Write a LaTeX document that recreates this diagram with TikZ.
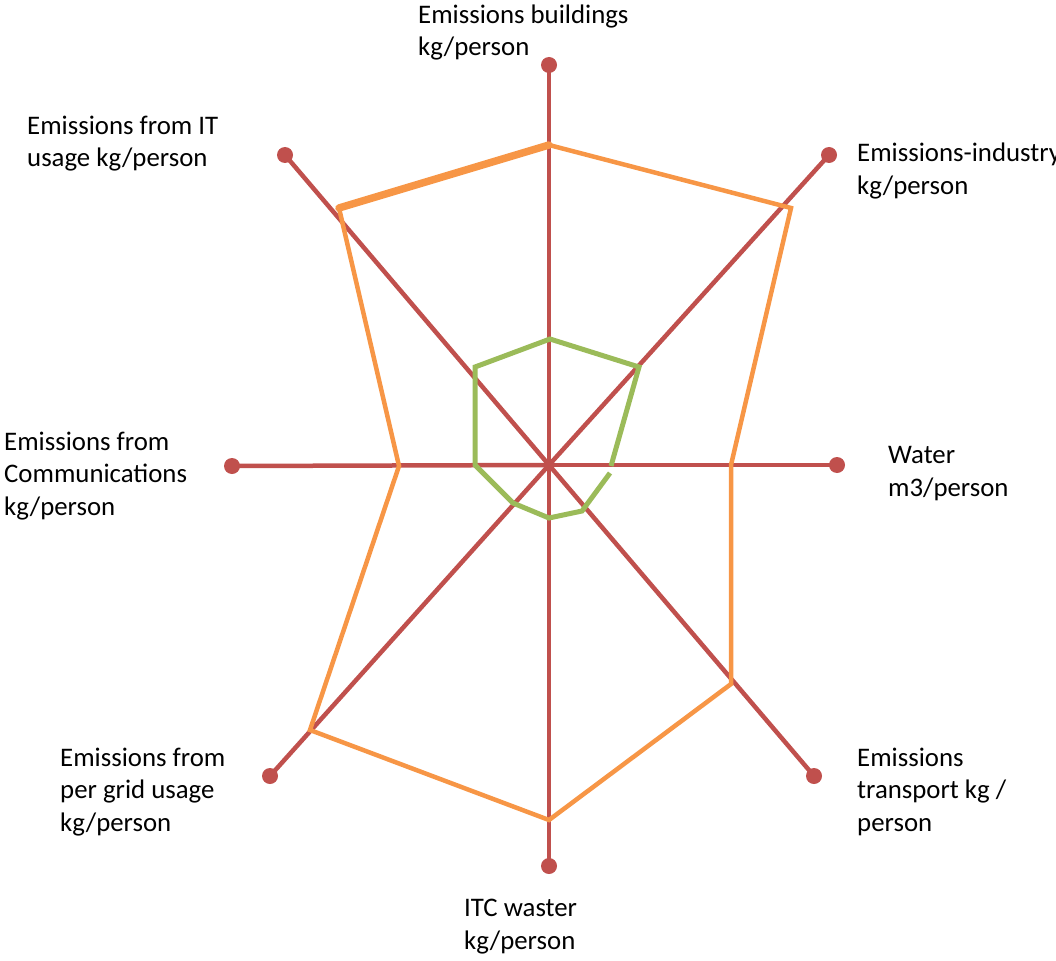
\documentclass[tikz,border=0pt]{standalone}
\usepackage{fontspec}
\setmainfont{Carlito}
\definecolor{axisred}{HTML}{C0504D}
\definecolor{seriesorange}{HTML}{F79646}
\definecolor{seriesgreen}{HTML}{9BBB59}
\begin{document}
\begin{tikzpicture}[x=1pt,y=-1pt,
  axisline/.style={draw=axisred, line width=4.5pt},
  axisdot/.style={fill=axisred},
  orangeline/.style={draw=seriesorange, line width=4.5pt, line join=miter},
  greenline/.style={draw=seriesgreen, line width=5pt, line join=miter},
  axislabel/.style={anchor=base west, align=left, inner sep=0pt,
    font=\fontsize{26.8}{32.5}\selectfont}]
\useasboundingbox (0,0) rectangle (1056,960);

% centre and axis end points
\coordinate (c) at (549,465);
\coordinate (a1) at (549,65);
\coordinate (a2) at (829,155);
\coordinate (a3) at (837,465);
\coordinate (a4) at (814,776);
\coordinate (a5) at (549,866);
\coordinate (a6) at (270,776);
\coordinate (a7) at (232,466);
\coordinate (a8) at (285,155);

% axes with round end markers
\foreach \p in {a1,a2,a3,a4,a5,a6,a7,a8}{
  \draw[axisline] (c) -- (\p);
  \fill[axisdot] (\p) circle (8pt);
}

% orange series
\coordinate (o1) at (549,145);
\coordinate (o2) at (791,208);
\coordinate (o3) at (731,465);
\coordinate (o4) at (731,684);
\coordinate (o5) at (549,820);
\coordinate (o6) at (310,730);
\coordinate (o7) at (399,466);
\coordinate (o8) at (339,208);
\draw[orangeline] (o1) -- (o2) -- (o3) -- (o4) -- (o5) -- (o6) -- (o7) -- (o8);
\draw[orangeline, line width=7.5pt, line cap=round] (o8) -- (o1);

% green series
\coordinate (g1) at (550,339);
\coordinate (g2) at (639,367);
\coordinate (g3) at (611,466);
\coordinate (g3b) at (610,473);
\coordinate (g4) at (582,511);
\coordinate (g5) at (549,518);
\coordinate (g6) at (513,503);
\coordinate (g7) at (475,465);
\coordinate (g8) at (475,367);
\draw[greenline] (g3b) -- (g4) -- (g5) -- (g6) -- (g7) -- (g8) -- (g1) -- (g2) -- (g3);

% axis labels (anchored at the baseline of their last line)
\node[axislabel] (l1) at (418,56) {Emissions buildings\\kg/person};
\node[axislabel] (l2) at (857,194) {Emissions-industry\\kg/person};
\node[axislabel] (l3) at (888,496) {Water\\m3/person};
\node[axislabel] (l4) at (857,831) {Emissions\\transport kg /\\person};
\node[axislabel] (l5) at (464,949) {ITC waster\\kg/person};
\node[axislabel] (l6) at (60,831) {Emissions from\\per grid usage\\kg/person};
\node[axislabel] (l7) at (4,515) {Emissions from\\Communications\\kg/person};
\node[axislabel] (l8) at (27,167) {Emissions from IT\\usage kg/person};
\end{tikzpicture}
\end{document}
